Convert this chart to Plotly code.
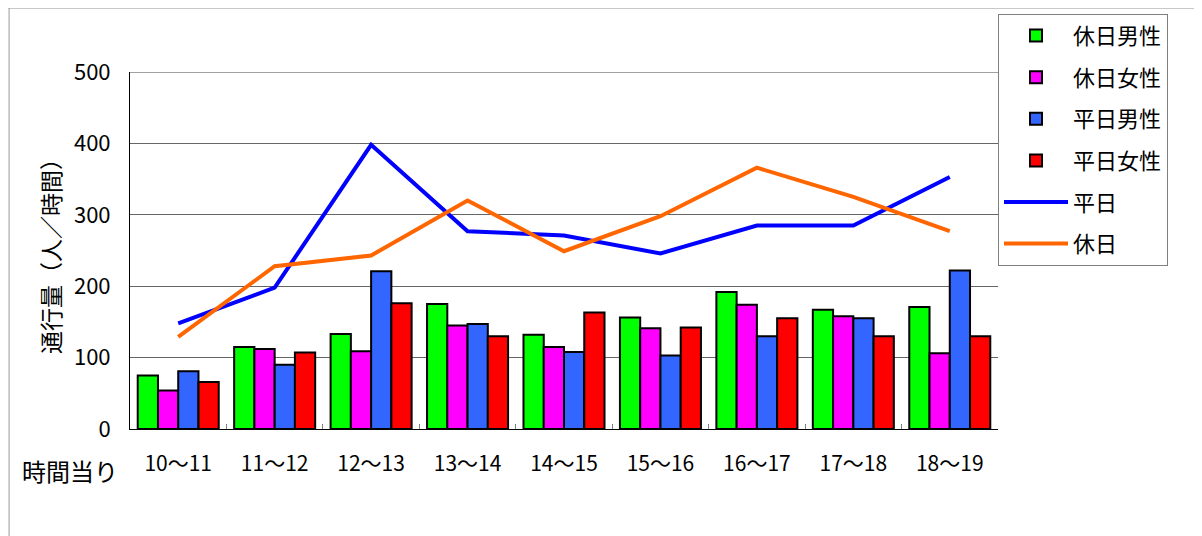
import plotly.graph_objects as go

categories = ["10〜11", "11〜12", "12〜13", "13〜14", "14〜15", "15〜16", "16〜17", "17〜18", "18〜19"]

holiday_male = [75, 115, 133, 175, 132, 156, 192, 167, 171]
holiday_female = [54, 112, 109, 145, 115, 141, 174, 158, 106]
weekday_male = [81, 90, 221, 147, 108, 103, 130, 155, 222]
weekday_female = [66, 107, 176, 130, 163, 142, 155, 130, 130]
weekday_total = [148, 198, 398, 277, 271, 246, 285, 285, 353]
holiday_total = [129, 228, 243, 320, 249, 298, 366, 325, 277]

y_ticks = [0, 100, 200, 300, 400, 500]

FONT = "Noto Sans CJK JP"

fig = go.Figure()

bar_specs = [
    ("休日男性", holiday_male, "#00FF00"),
    ("休日女性", holiday_female, "#FF00FF"),
    ("平日男性", weekday_male, "#3366FF"),
    ("平日女性", weekday_female, "#FF0000"),
]
for i, (name, vals, col) in enumerate(bar_specs):
    fig.add_trace(go.Bar(
        x=categories, y=vals, name=name,
        marker=dict(color=col, line=dict(color="black", width=2)),
        legendgroup="g%d" % i,
    ))

fig.add_trace(go.Scatter(
    x=categories, y=weekday_total, name="平日", mode="lines",
    line=dict(color="#0000FF", width=4), legendgroup="g4",
))
fig.add_trace(go.Scatter(
    x=categories, y=holiday_total, name="休日", mode="lines",
    line=dict(color="#FF6600", width=4), legendgroup="g5",
))

W, H = 1194, 528
L, T = 122, 64
PW, PH = 868.5, 357

fig.update_layout(
    width=W, height=H,
    margin=dict(l=L, r=W - L - PW, t=T, b=H - T - PH, autoexpand=False),
    paper_bgcolor="white", plot_bgcolor="white",
    font=dict(family=FONT, color="black", size=20),
    barmode="group", bargap=0.16, bargroupgap=0,
    showlegend=True,
    legend=dict(
        x=1.0, xanchor="left", y=1.163, yanchor="top",
        bordercolor="#808080", borderwidth=1, bgcolor="white",
        font=dict(family=FONT, size=22, color="black"),
        tracegroupgap=10, itemwidth=64,
        traceorder="grouped",
    ),
    xaxis=dict(
        showline=True, linecolor="black", linewidth=1,
        ticks="inside", tickson="boundaries", ticklen=5, tickcolor="#808080",
        tickfont=dict(family=FONT, size=21),
        ticklabelstandoff=16,
        showgrid=False, automargin=False,
    ),
    yaxis=dict(
        range=[0, 500], tickvals=y_ticks,
        showline=True, linecolor="black", linewidth=1,
        showgrid=True, gridcolor="#666666", gridwidth=1,
        tickfont=dict(family=FONT, size=22),
        ticklabelstandoff=14,
        zeroline=False, automargin=False,
        title=dict(text="通行量（人／時間）", font=dict(family=FONT, size=23), standoff=6),
    ),
    shapes=[
        dict(type="line", xref="paper", yref="y", x0=0, x1=1, y0=500, y1=500,
             line=dict(color="#444444", width=1)),
        dict(type="line", xref="paper", yref="paper", x0=-0.14, x1=1.25, y0=1.1793, y1=1.1793,
             line=dict(color="#C8C8C8", width=2)),
        dict(type="line", xref="paper", yref="paper", x0=-0.1393, x1=-0.1393, y0=1.1793, y1=-0.30,
             line=dict(color="#999999", width=1)),
    ],
    annotations=[
        dict(text="時間当り", xref="paper", yref="paper", x=0, y=0, xanchor="center", yanchor="middle",
             xshift=-60, yshift=-41, showarrow=False, font=dict(family=FONT, size=24, color="black")),
    ],
)

fig.write_html("out.html")
